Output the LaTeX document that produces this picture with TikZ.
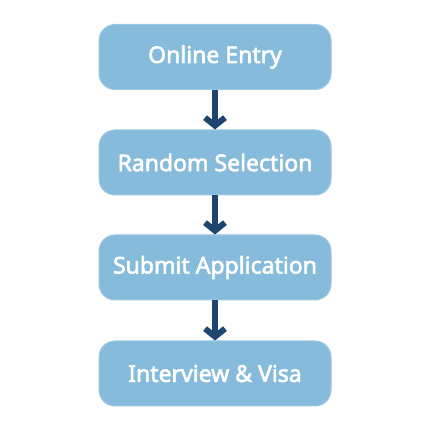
\documentclass[tikz,border=0pt]{standalone}
\usepackage{fontspec}
\newfontfamily\boxfont{Noto Sans}[FakeBold=2.5]
\usepackage{xcolor}
\usetikzlibrary{positioning,arrows.meta}

\definecolor{boxfill}{HTML}{86BBDC}
\definecolor{boxline}{HTML}{9CC8E3}
\definecolor{arrowblue}{HTML}{1D4570}

\tikzset{
  stagebox/.style={draw=boxline, line width=1pt, fill=boxfill, rounded corners=16pt,
    minimum width=232pt, minimum height=65pt, text=white,
    font=\boxfont\fontsize{23}{27}\selectfont},
  flowarrow/.style={draw=arrowblue, line width=6pt,
    -{Straight Barb[length=8pt,width=20pt]}}
}

\begin{document}
\begin{tikzpicture}[x=1pt,y=1pt]
          \useasboundingbox (0,0) rectangle (431,431);

          % Define the stages of the process
          \node[stagebox] (entry) at (215, 374) {Online Entry};
          \node[stagebox] (select) at (215, 268.5) {Random Selection};
          \node[stagebox] (apply) at (215, 163.5) {Submit Application};
          \node[stagebox] (visa) at (215, 57.5) {Interview \& Visa};

          % Draw the arrows between the stages
          \draw[flowarrow] (entry) -- (select);
          \draw[flowarrow] (select) -- (apply);
          \draw[flowarrow] (apply) -- (visa);

\end{tikzpicture}
\end{document}
